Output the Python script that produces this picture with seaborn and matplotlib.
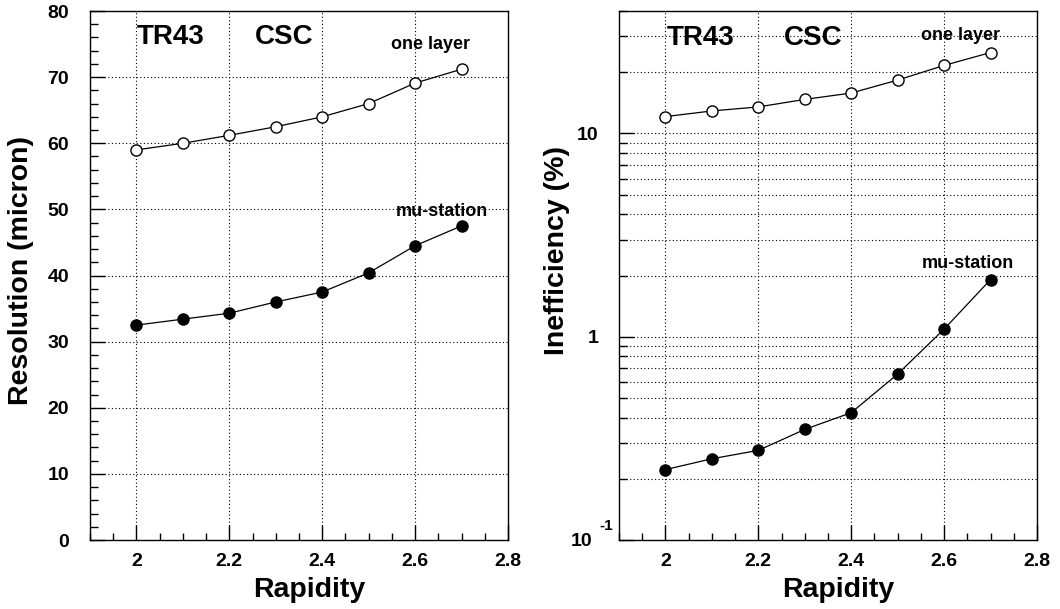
import numpy as np
import pandas as pd
import matplotlib
matplotlib.use("Agg")
import matplotlib.pyplot as plt
from matplotlib.ticker import MultipleLocator, LogLocator, FixedLocator, FixedFormatter, NullFormatter
import seaborn as sns

# Rapidity points
rapidity = [2.0, 2.1, 2.2, 2.3, 2.4, 2.5, 2.6, 2.7]

# Spatial resolution (micron)
res_one_layer = [59.0, 60.0, 61.2, 62.5, 64.0, 66.0, 69.1, 71.2]
res_mu_station = [32.5, 33.4, 34.3, 36.0, 37.5, 40.4, 44.5, 47.5]

# Inefficiency (%)
ineff_one_layer = [12.1, 12.9, 13.5, 14.7, 15.8, 18.3, 21.6, 25.0]
ineff_mu_station = [0.222, 0.251, 0.276, 0.350, 0.423, 0.655, 1.09, 1.91]

series_names = ["one layer", "mu-station"]
panel_tags = ["TR43", "CSC"]

sns.set_theme(style="ticks")
plt.rcParams.update({
    "font.family": ["Liberation Sans", "DejaVu Sans"],
    "font.weight": "bold",
    "axes.labelweight": "bold",
    "text.color": "black",
    "axes.labelcolor": "black",
    "axes.edgecolor": "black",
    "axes.linewidth": 1.0,
    "xtick.color": "black",
    "ytick.color": "black",
    "xtick.labelcolor": "black",
    "ytick.labelcolor": "black",
})

fig = plt.figure(figsize=(10.6, 6.09), dpi=100)
ax_res = fig.add_axes([0.0849, 0.1133, 0.3943, 0.8686])
ax_inf = fig.add_axes([0.5840, 0.1133, 0.3943, 0.8686])

LABEL_SIZE = 20.5
TICK_SIZE = 14

grid_kw = dict(color="black", linestyle=(0, (1, 2.2)), linewidth=0.8)
open_kw = dict(marker="o", markersize=8, markerfacecolor="white",
               markeredgecolor="black", markeredgewidth=1.0,
               color="black", linewidth=0.9)
full_kw = dict(marker="o", markersize=8, markerfacecolor="black",
               markeredgecolor="black", markeredgewidth=1.0,
               color="black", linewidth=0.9)


def style_x(ax):
    ax.set_xlim(1.9, 2.8)
    ax.xaxis.set_major_locator(FixedLocator([2.0, 2.2, 2.4, 2.6, 2.8]))
    ax.xaxis.set_major_formatter(FixedFormatter(["2", "2.2", "2.4", "2.6", "2.8"]))
    ax.xaxis.set_minor_locator(MultipleLocator(0.05))
    ax.tick_params(axis="x", which="major", direction="in", length=11, width=1.0,
                   labelsize=TICK_SIZE, pad=9)
    ax.tick_params(axis="x", which="minor", direction="in", length=5, width=1.0)
    for lab in ax.get_xticklabels():
        lab.set_fontweight("bold")
    ax.set_xlabel("Rapidity", fontsize=LABEL_SIZE, fontweight="bold")
    ax.xaxis.set_label_coords(0.525, -0.0945)
    ax.xaxis.label.set_va("center")
    for s in ax.spines.values():
        s.set_visible(True)
        s.set_color("black")


# ---- Resolution panel ----
df_res = pd.DataFrame({"rapidity": rapidity,
                       series_names[0]: res_one_layer,
                       series_names[1]: res_mu_station})
sns.lineplot(data=df_res, x="rapidity", y=series_names[0], ax=ax_res, **open_kw)
sns.lineplot(data=df_res, x="rapidity", y=series_names[1], ax=ax_res, **full_kw)
ax_res.set_ylim(0, 80)
ax_res.yaxis.set_major_locator(MultipleLocator(10))
ax_res.yaxis.set_minor_locator(MultipleLocator(2))
ax_res.tick_params(axis="y", which="major", direction="in", length=11, width=1.0,
                   labelsize=TICK_SIZE, pad=15)
ax_res.tick_params(axis="y", which="minor", direction="in", length=6, width=1.0)
for v in [10, 20, 30, 40, 50, 60, 70]:
    ax_res.axhline(v, zorder=0, **grid_kw)
for v in [2.0, 2.2, 2.4, 2.6]:
    ax_res.axvline(v, zorder=0, **grid_kw)
style_x(ax_res)
for lab in ax_res.get_yticklabels():
    lab.set_fontweight("bold")
ax_res.set_ylabel("Resolution (micron)", fontsize=LABEL_SIZE, fontweight="bold")
ax_res.yaxis.set_label_coords(-0.165, 0.51)
ax_res.yaxis.label.set_va("center")

ax_res.text(2.0, 75.0, panel_tags[0], fontsize=20, fontweight="bold", ha="left", va="baseline")
ax_res.text(2.254, 75.0, panel_tags[1], fontsize=20, fontweight="bold", ha="left", va="baseline")
ax_res.text(2.549, 74.2, series_names[0], fontsize=13, fontweight="bold", ha="left", va="baseline")
ax_res.text(2.558, 49.0, series_names[1], fontsize=13, fontweight="bold", ha="left", va="baseline")

# ---- Inefficiency panel ----
df_inf = pd.DataFrame({"rapidity": rapidity,
                       series_names[0]: ineff_one_layer,
                       series_names[1]: ineff_mu_station})
sns.lineplot(data=df_inf, x="rapidity", y=series_names[0], ax=ax_inf, **open_kw)
sns.lineplot(data=df_inf, x="rapidity", y=series_names[1], ax=ax_inf, **full_kw)
ax_inf.set_yscale("log")
ax_inf.set_ylim(0.1, 40)
ax_inf.yaxis.set_major_locator(FixedLocator([0.1, 1, 10]))
ax_inf.yaxis.set_major_formatter(FixedFormatter(["", "1", "10"]))
ax_inf.yaxis.set_minor_locator(LogLocator(base=10, subs=np.arange(2, 10), numticks=20))
ax_inf.yaxis.set_minor_formatter(NullFormatter())
ax_inf.tick_params(axis="y", which="major", direction="in", length=11, width=1.0,
                   labelsize=TICK_SIZE, pad=15)
ax_inf.tick_params(axis="y", which="minor", direction="in", length=6, width=1.0)
for dec in [0.1, 1, 10]:
    for m in range(1, 10):
        v = dec * m
        if 0.1 < v < 40:
            ax_inf.axhline(v, zorder=0, **grid_kw)
for v in [2.0, 2.2, 2.4, 2.6]:
    ax_inf.axvline(v, zorder=0, **grid_kw)
style_x(ax_inf)
for lab in ax_inf.get_yticklabels():
    lab.set_fontweight("bold")
# lowest decade label written as 10 with a raised exponent
ax_inf.text(-0.0646, -0.002, "10", transform=ax_inf.transAxes, fontsize=TICK_SIZE,
            fontweight="bold", ha="right", va="center")
ax_inf.text(-0.0478, 0.019, "-1", transform=ax_inf.transAxes, fontsize=11,
            fontweight="bold", ha="left", va="baseline")
ax_inf.set_ylabel("Inefficiency (%)", fontsize=LABEL_SIZE, fontweight="bold")
ax_inf.yaxis.set_label_coords(-0.148, 0.548)
ax_inf.yaxis.label.set_va("center")

ax_inf.text(2.003, 27.2, panel_tags[0], fontsize=20, fontweight="bold", ha="left", va="baseline")
ax_inf.text(2.254, 27.2, panel_tags[1], fontsize=20, fontweight="bold", ha="left", va="baseline")
ax_inf.text(2.55, 28.7, series_names[0], fontsize=13, fontweight="bold", ha="left", va="baseline")
ax_inf.text(2.551, 2.18, series_names[1], fontsize=13, fontweight="bold", ha="left", va="baseline")

fig.savefig("out.png", dpi=100, facecolor="white")
